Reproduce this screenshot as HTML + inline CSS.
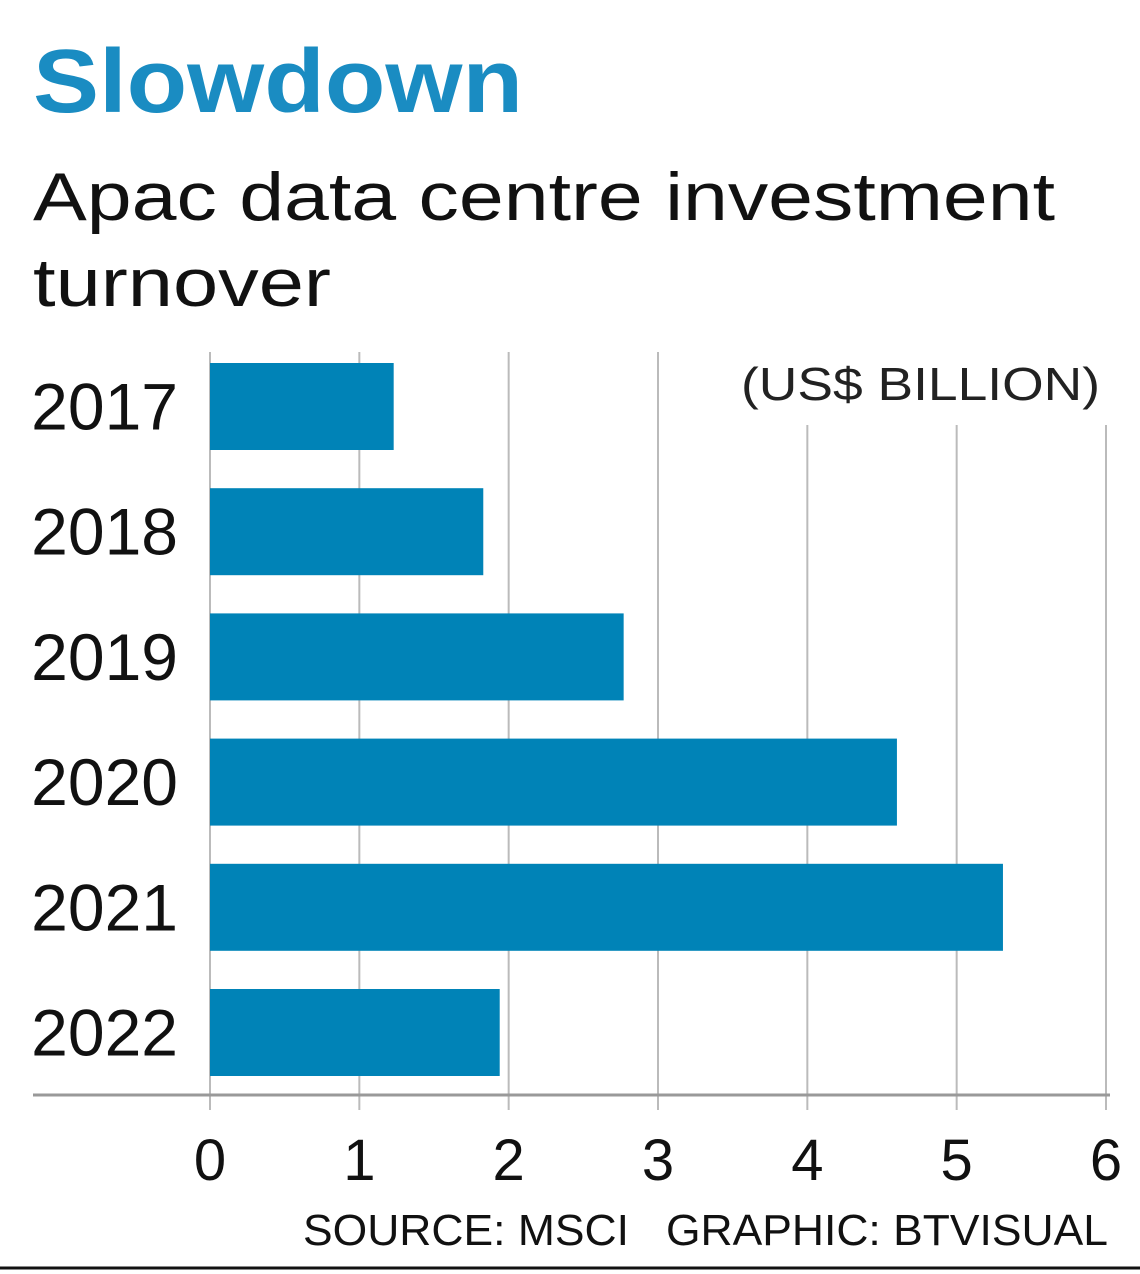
<!DOCTYPE html>
<html><head><meta charset="utf-8"><style>
body{margin:0;background:#fff;width:1140px;height:1274px;overflow:hidden;font-family:"Liberation Sans",sans-serif;}
svg{display:block}
</style></head><body>
<svg id="chart" width="1140" height="1274">
<text x="33" y="112" font-size="90" font-weight="bold" fill="#1a8cc2" textLength="490" lengthAdjust="spacingAndGlyphs">Slowdown</text>
<text x="33" y="220" font-size="68" fill="#111" textLength="1022" lengthAdjust="spacingAndGlyphs">Apac data centre investment</text>
<text x="33" y="306" font-size="68" fill="#111" textLength="298" lengthAdjust="spacingAndGlyphs">turnover</text>
<text x="741" y="400" font-size="46" fill="#222" textLength="359" lengthAdjust="spacingAndGlyphs">(US$ BILLION)</text>
<g id="grid"></g>
<g id="bars"></g>
<line x1="33" x2="1110" y1="1095" y2="1095" stroke="#999" stroke-width="3"/>
<g id="xticks"></g>
<g id="ylabels"></g>
<text x="303" y="1245" font-size="44" fill="#111" textLength="805" lengthAdjust="spacingAndGlyphs">SOURCE: MSCI&#160;&#160;&#160;GRAPHIC: BTVISUAL</text>
<line x1="0" x2="1140" y1="1268" y2="1268" stroke="#111" stroke-width="3"/>
</svg>
<script>
const categories=["2017","2018","2019","2020","2021","2022"];
const values=[1.23,1.83,2.77,4.6,5.31,1.94];
const tickValues=[0,1,2,3,4,5,6];
const NS="http://www.w3.org/2000/svg";
const x=v=>210+v*(1106-210)/6;
const y=i=>363+i*125.2;
const bh=87;
function mk(tag,attrs,parent,text){const e=document.createElementNS(NS,tag);for(const k in attrs)e.setAttribute(k,attrs[k]);if(text!==undefined)e.textContent=text;parent.appendChild(e);return e;}
const grid=document.getElementById('grid'),bars=document.getElementById('bars'),xt=document.getElementById('xticks'),yl=document.getElementById('ylabels');
tickValues.forEach(t=>{
  const top=(x(t)>720)?425:352;
  const g=mk('line',{x1:x(t),x2:x(t),y1:top,y2:1110,stroke:'#bbb','stroke-width':2},grid);
  
  
  const l=mk('text',{x:x(t),y:1180,'font-size':58,fill:'#111','text-anchor':'middle'},xt,String(t));
  
  
});
categories.forEach((c,i)=>{
  const r=mk('rect',{x:x(0),y:y(i),width:x(values[i])-x(0),height:bh,fill:'#0083b7'},bars);
  
  
  const t=mk('text',{x:178,y:y(i)+bh/2+23,'font-size':66,fill:'#111','text-anchor':'end'},yl,c);
  
  
});
</script>
</body></html>
